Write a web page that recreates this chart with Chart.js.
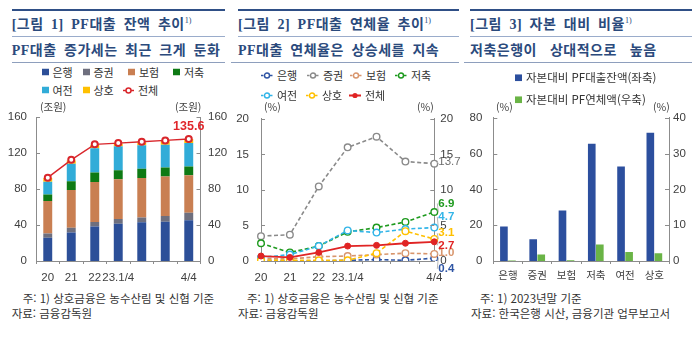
<!DOCTYPE html>
<html lang="ko">
<head>
<meta charset="utf-8">
<script src="https://cdn.jsdelivr.net/npm/chart.js@4.4.1/dist/chart.umd.min.js"></script>
<style>
  html, body { margin: 0; padding: 0; background: #fff; }
  #page { position: relative; width: 700px; height: 339px; overflow: hidden;
          font-family: "Noto Sans CJK KR", sans-serif; color: #333; }
  .abs { position: absolute; white-space: nowrap; line-height: 1; transform: translateY(-50%); }
  .rule { position: absolute; height: 0; }
  .title { font-family: "Liberation Serif", "Noto Sans CJK KR", serif; font-weight: bold;
           font-size: 14px; color: #2b4a7c; letter-spacing: 0.5px; word-spacing: 3.5px; }
  .title sup { font-size: 8px; font-weight: normal; vertical-align: 6px; letter-spacing: 0; }
  .unit { font-size: 10.5px; color: #404040; }
  .legend { font-size: 11px; color: #333; display: flex; align-items: center; }
  .legend svg { margin-right: 4px; }
  .legend.wide { font-size: 11.5px; }
  .note { font-size: 11.5px; color: #333; }
  canvas { position: absolute; }
</style>
</head>
<body>
<div id="page">
  <canvas id="c1" width="232" height="190" style="left:0;top:100px"></canvas>
  <canvas id="c2" width="234" height="190" style="left:232px;top:100px"></canvas>
  <canvas id="c3" width="234" height="190" style="left:466px;top:100px"></canvas>
</div>
<script>
// 그림 1: PF대출 잔액 (조원)
const p1Labels = ['20', '21', '22', '23.1/4', '', '', '4/4'];
const p1Bank = [25.8, 31.8, 38.4, 41.5, 43.0, 43.7, 45.2];
const p1Securities = [4.8, 5.2, 4.9, 5.2, 5.2, 6.3, 8.3];
const p1Insurance = [36.2, 41.8, 44.4, 44.1, 44.1, 43.8, 41.7];
const p1Savings = [7.1, 9.8, 10.5, 10.1, 10.1, 10.1, 9.8];
const p1Credit = [14.2, 19.4, 27.2, 26.5, 26.1, 25.3, 26.2];
const p1Mutual = [4.1, 3.7, 3.4, 3.0, 3.3, 4.0, 4.4];
const p1Total = [92.6, 112.4, 129.6, 131.0, 132.5, 134.0, 135.6];

// 그림 2: PF대출 연체율 (%)
const p2Labels = ['20', '21', '22', '23.1/4', '', '', '4/4'];
const p2Bank = [0.1, 0.0, 0.0, 0.1, 0.2, 0.1, 0.4];
const p2Securities = [3.5, 3.7, 10.5, 16.0, 17.5, 14.0, 13.7];
const p2Insurance = [0.3, 0.3, 0.6, 0.7, 0.9, 1.1, 1.0];
const p2Savings = [2.5, 1.2, 2.1, 4.1, 4.7, 5.5, 6.9];
const p2Credit = [0.5, 0.9, 2.1, 4.3, 4.0, 4.5, 4.7];
const p2Mutual = [0.1, 0.1, 0.1, 0.1, 1.1, 4.2, 3.1];
const p2Total = [0.7, 0.5, 1.2, 2.1, 2.2, 2.5, 2.7];
// where the end-value labels sit (in % units, right of the chart)
const p2LabelAt = [-1.1, 13.9, 1.1, 8.1, 6.2, 3.9, 2.2];

// 그림 3: 자본 대비 비율 (%)
const p3Labels = ['은행', '증권', '보험', '저축', '여전', '상호'];
const p3Balance = [19.3, 12.2, 28.3, 65.6, 52.8, 71.7];
const p3Overdue = [0.15, 1.8, 0.2, 4.6, 2.5, 2.2];

const sectorNames = ['은행', '증권', '보험', '저축', '여전', '상호', '전체'];
const barColors = ['#2c4f98', '#6e6f7e', '#c97f52', '#0e7a14', '#31acd8', '#ffc000', '#d9262b'];
const lineColors = ['#2f55a4', '#8a8a8a', '#d8956c', '#1e9a1e', '#33b5e8', '#ffc000', '#e02424'];

const NARROW = '"Liberation Sans Narrow", "Liberation Sans", Arial, sans-serif';
const AXIS = '#8c8c8c';
Chart.defaults.font.family = NARROW;
Chart.defaults.font.size = 11.5;
Chart.defaults.color = '#404040';

const page = document.getElementById('page');

// ---- html text helpers
function text(cls, x, y, html) {
    const el = document.createElement('div');
    el.className = 'abs ' + cls;
    el.style.left = x + 'px';
    el.style.top = y + 'px';
    el.innerHTML = html;
    page.appendChild(el);
    return el;
}
function rule(x1, x2, y, w, color) {
    const el = document.createElement('div');
    el.className = 'rule';
    el.style.left = x1 + 'px';
    el.style.width = (x2 - x1) + 'px';
    el.style.top = (y - w / 2) + 'px';
    el.style.borderTop = w + 'px solid ' + color;
    page.appendChild(el);
}
function marker(kind, c) {
    if (kind === 'box') return `<svg width="7" height="7"><rect width="7" height="7" fill="${c}"/></svg>`;
    if (kind === 'ring') return `<svg width="11" height="8"><line x1="0" y1="4" x2="11" y2="4" stroke="${c}" stroke-width="1.5"/><circle cx="5.5" cy="4" r="2.5" fill="#fff" stroke="${c}" stroke-width="1.5"/></svg>`;
    if (kind === 'dash') return `<svg width="12" height="8"><line x1="0" y1="4" x2="12" y2="4" stroke="${c}" stroke-width="1.5" stroke-dasharray="2.5 2"/><circle cx="6" cy="4" r="2.5" fill="#fff" stroke="${c}" stroke-width="1.4"/></svg>`;
    return `<svg width="12" height="8"><line x1="0" y1="4" x2="12" y2="4" stroke="${c}" stroke-width="1.8"/><circle cx="6" cy="4" r="2.6" fill="${c}"/></svg>`;
}
function legend(x, y, kind, color, label, cls) {
    text('legend ' + (cls || ''), x, y, marker(kind, color) + '<span>' + label + '</span>');
}

// ---- headings
function heading(x1, x2, bx1, title, sub) {
    rule(x1, x2, 10, 2, '#2f4f86');
    text('title', x1, 24, title);
    rule(x1, x2, 36.5, 1.5, '#9aaccb');
    text('title', x1, 50.5, sub);
    rule(bx1, x2, 63, 1.5, '#8e9fbd');
}
heading(11.7, 225, 11.7, '[그림 1] PF대출 잔액 추이<sup>1)</sup>', 'PF대출 증가세는 최근 크게 둔화');
heading(238, 459, 231, '[그림 2] PF대출 연체율 추이<sup>1)</sup>', 'PF대출 연체율은 상승세를 지속');
heading(470, 692, 464, '[그림 3] 자본 대비 비율<sup>1)</sup>', '<span style="word-spacing:9px">저축은행이 상대적으로 높음</span>');

// ---- legends
[[41.5, 72], [82.5, 72], [128, 72], [173, 72], [41.5, 90], [82.5, 90]].forEach((p, i) =>
    legend(p[0], p[1], 'box', barColors[i], sectorNames[i]));
legend(123, 90, 'ring', barColors[6], sectorNames[6]);

[[261, 75], [307, 75], [350, 75], [395, 75], [261, 95], [306, 95]].forEach((p, i) =>
    legend(p[0], p[1], 'dash', lineColors[i], sectorNames[i]));
legend(349, 95, 'dot', lineColors[6], sectorNames[6]);

legend(515, 78, 'box', '#2c4f9e', '자본대비 PF대출잔액(좌축)', 'wide');
legend(515, 100, 'box', '#6ab446', '자본대비 PF연체액(우축)', 'wide');

// ---- units
text('unit', 40, 107, '(조원)');
text('unit', 175, 107, '(조원)');
text('unit', 264, 107, '(%)');
text('unit', 417, 107, '(%)');
text('unit', 496, 107, '(%)');
text('unit', 653, 107, '(%)');

// ---- notes
text('note', 22.7, 299, '주: 1) 상호금융은 농수산림 및 신협 기준');
text('note', 11.7, 313.5, '자료: 금융감독원');
text('note', 247, 299, '주: 1) 상호금융은 농수산림 및 신협 기준');
text('note', 238, 313.5, '자료: 금융감독원');
text('note', 480, 299, '주: 1) 2023년말 기준');
text('note', 471, 313.5, '자료: 한국은행 시산, 금융기관 업무보고서');

// ---- chart plugins
const innerTicks = {
    id: 'innerTicks',
    afterDraw(chart) {
        const ctx = chart.ctx;
        ctx.save();
        ctx.strokeStyle = AXIS;
        ctx.lineWidth = 1;
        Object.values(chart.scales).forEach(s => {
            if (s.axis !== 'y') return;
            const left = s.position === 'left';
            const x0 = left ? s.right : s.left;
            s.ticks.forEach((t, i) => {
                const y = Math.round(s.getPixelForTick(i)) + 0.5;
                ctx.beginPath();
                ctx.moveTo(x0, y);
                ctx.lineTo(x0 + (left ? 4 : -4), y);
                ctx.stroke();
            });
        });
        ctx.restore();
    }
};

const totalLabel = {
    id: 'totalLabel',
    afterDatasetsDraw(chart) {
        const i = chart.data.datasets.length - 1;
        const meta = chart.getDatasetMeta(i);
        const pt = meta.data[meta.data.length - 1];
        const ctx = chart.ctx;
        ctx.save();
        ctx.font = 'bold 12.5px ' + NARROW;
        ctx.fillStyle = '#e0262b';
        ctx.textAlign = 'center';
        ctx.textBaseline = 'middle';
        ctx.fillText(p1Total[p1Total.length - 1].toFixed(1), pt.x, pt.y - 12);
        ctx.restore();
    }
};

const endLabels = {
    id: 'endLabels',
    afterDatasetsDraw(chart) {
        const ctx = chart.ctx;
        const y = chart.scales.y;
        const xr = chart.chartArea.right;
        ctx.save();
        chart.data.datasets.forEach((ds, i) => {
            const meta = chart.getDatasetMeta(i);
            const pt = meta.data[meta.data.length - 1];
            const ly = y.getPixelForValue(p2LabelAt[i]);
            ctx.strokeStyle = '#b8b8b8';
            ctx.lineWidth = 1;
            ctx.beginPath();
            ctx.moveTo(pt.x + 4, pt.y);
            ctx.lineTo(xr + 3, ly);
            ctx.stroke();
            const isGray = i === 1;
            ctx.font = (isGray ? '' : 'bold ') + '11.5px ' + NARROW;
            ctx.fillStyle = isGray ? '#6e6e6e' : ds.borderColor;
            ctx.textAlign = 'left';
            ctx.textBaseline = 'middle';
            ctx.fillText(ds.data[ds.data.length - 1].toFixed(1), xr + 4, ly);
        });
        ctx.restore();
    }
};

// ---- shared axis builders
function yAxis(pos, max, step, width, pad) {
    return {
        position: pos, min: 0, max: max,
        grid: { display: false, drawTicks: false },
        border: { display: true, color: AXIS, width: 1 },
        ticks: { stepSize: step, padding: pad },
        afterFit: s => { s.width = width; }
    };
}
function xAxis(extra) {
    return Object.assign({
        grid: { display: true, drawOnChartArea: false, drawTicks: true, tickLength: 3, color: AXIS, offset: true },
        border: { display: true, color: AXIS, width: 1 },
        ticks: { autoSkip: false, maxRotation: 0, padding: 7 },
        afterFit: s => { s.height = 29; }
    }, extra || {});
}
const base = {
    responsive: false, animation: false, devicePixelRatio: 1,
    layout: { padding: { top: 17, left: 0, right: 0, bottom: 0 } },
    plugins: { legend: { display: false }, tooltip: { enabled: false } }
};

// ---- 그림 1
const p1Series = [p1Bank, p1Securities, p1Insurance, p1Savings, p1Credit, p1Mutual];
new Chart(document.getElementById('c1'), {
    type: 'bar',
    data: {
        labels: p1Labels,
        datasets: p1Series.map((d, i) => ({
            label: sectorNames[i], data: d, backgroundColor: barColors[i],
            yAxisID: 'y', stack: 'pf', order: 1,
            barPercentage: 0.38, categoryPercentage: 1
        })).concat([{
            type: 'line', label: sectorNames[6], data: p1Total, yAxisID: 'y2', order: 0,
            borderColor: barColors[6], borderWidth: 1.4, tension: 0,
            pointRadius: 3, pointBorderWidth: 2, pointBackgroundColor: '#fff',
            pointBorderColor: barColors[6]
        }])
    },
    options: Object.assign({}, base, {
        scales: {
            x: xAxis({ stacked: true }),
            y: Object.assign(yAxis('left', 160, 40, 36, 9), { stacked: true }),
            y2: yAxis('right', 160, 40, 31.5, 7.5)
        }
    }),
    plugins: [innerTicks, totalLabel]
});

// ---- 그림 2
const p2Series = [p2Bank, p2Securities, p2Insurance, p2Savings, p2Credit, p2Mutual, p2Total];
const p2Order = [6, 5, 4, 3, 2, 1, 0];
new Chart(document.getElementById('c2'), {
    type: 'line',
    data: {
        labels: p2Labels,
        datasets: p2Series.map((d, i) => {
            const solid = i === 6;
            return {
                label: sectorNames[i], data: d, yAxisID: 'y', order: p2Order[i],
                borderColor: lineColors[i], borderWidth: solid ? 1.8 : 1.6,
                borderDash: solid ? [] : [4, 2.5], tension: 0, fill: false,
                pointRadius: solid ? 3 : 3.3, pointBorderWidth: solid ? 1 : 1.4,
                pointBackgroundColor: solid ? lineColors[i] : '#fff',
                pointBorderColor: lineColors[i]
            };
        })
    },
    options: Object.assign({}, base, {
        scales: {
            x: xAxis(),
            y: yAxis('left', 20, 5, 29, 12),
            y2: yAxis('right', 20, 5, 31.7, 6)
        }
    }),
    plugins: [innerTicks, endLabels]
});

// ---- 그림 3
new Chart(document.getElementById('c3'), {
    type: 'bar',
    data: {
        labels: p3Labels,
        datasets: [
            { label: '자본대비 PF대출잔액(좌축)', data: p3Balance, backgroundColor: '#2c4f9e', yAxisID: 'y',
              barPercentage: 0.95, categoryPercentage: 0.55 },
            { label: '자본대비 PF연체액(우축)', data: p3Overdue, backgroundColor: '#6ab446', yAxisID: 'y2',
              barPercentage: 0.95, categoryPercentage: 0.55 }
        ]
    },
    options: Object.assign({}, base, {
        scales: {
            x: xAxis({ ticks: { autoSkip: false, maxRotation: 0, padding: 5,
                                font: { family: '"Noto Sans CJK KR", sans-serif', size: 10.5 } } }),
            y: yAxis('left', 80, 20, 27.3, 11),
            y2: yAxis('right', 40, 10, 31, 4)
        }
    }),
    plugins: [innerTicks]
});
</script>
</body>
</html>
